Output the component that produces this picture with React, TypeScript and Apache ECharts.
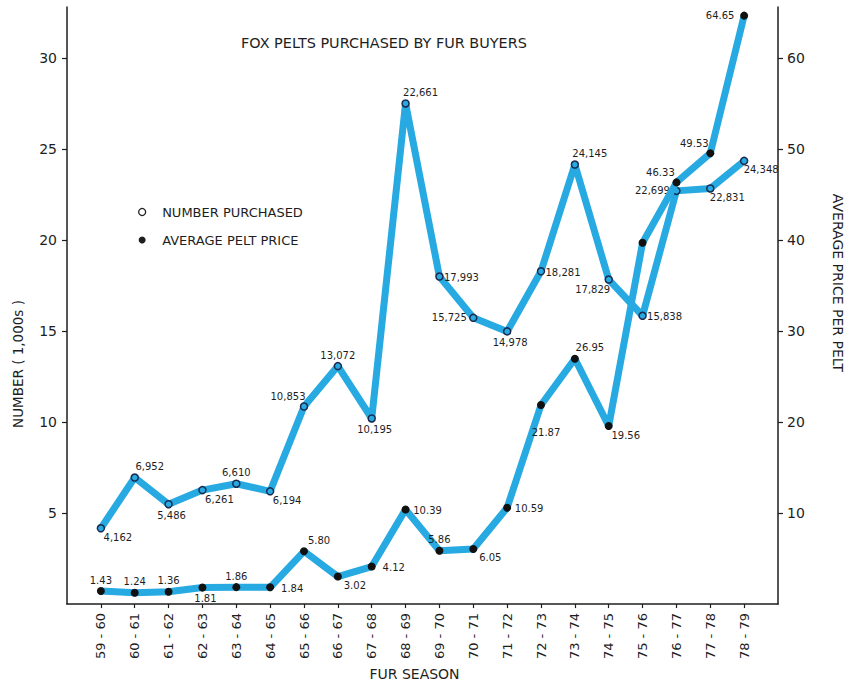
import React, { useEffect, useRef } from "react";
import * as echarts from "echarts";

const seasons = [
  "59 - 60", "60 - 61", "61 - 62", "62 - 63", "63 - 64", "64 - 65", "65 - 66",
  "66 - 67", "67 - 68", "68 - 69", "69 - 70", "70 - 71", "71 - 72", "72 - 73",
  "73 - 74", "74 - 75", "75 - 76", "76 - 77", "77 - 78", "78 - 79",
];

// Number purchased, thousands (as plotted)
const numberPurchased = [
  4.162, 6.952, 5.486, 6.261, 6.61, 6.194, 10.853, 13.072, 10.195, 27.5,
  17.993, 15.725, 14.978, 18.281, 24.145, 17.829, 15.838, 22.699, 22.831, 24.348,
];
const numberLabels = [
  "4,162", "6,952", "5,486", "6,261", "6,610", "6,194", "10,853", "13,072", "10,195", "22,661",
  "17,993", "15,725", "14,978", "18,281", "24,145", "17,829", "15,838", "22,699", "22,831", "24,348",
];

// Average pelt price, dollars
const avgPrice = [
  1.43, 1.24, 1.36, 1.81, 1.86, 1.84, 5.8, 3.02, 4.12, 10.39,
  5.86, 6.05, 10.59, 21.87, 26.95, 19.56, 39.7, 46.33, 49.53, 64.65,
];
const priceLabels = [
  "1.43", "1.24", "1.36", "1.81", "1.86", "1.84", "5.80", "3.02", "4.12", "10.39",
  "5.86", "6.05", "10.59", "21.87", "26.95", "19.56", "", "46.33", "49.53", "64.65",
];

const leftTicks = [5, 10, 15, 20, 25, 30];
const rightTicks = [10, 20, 30, 40, 50, 60];

// label placement (compass direction from the point)
const numberPlace = ["SE", "NE", "S", "SE", "N", "SE", "NW", "N", "S", "NE", "E", "W", "S", "E", "NE", "SW", "E", "W", "SE", "SE"];
const pricePlace = ["N", "N", "N", "S", "N", "E", "NE", "SE", "E", "E", "N", "SE", "E", "S2", "NE", "SE", "N", "NW", "NW", "W"];

const placeOffset: Record<string, number[]> = {
  N: [0, -11],
  S: [3, 11],
  E: [22, 1],
  W: [-24, 0],
  NE: [15, -11],
  NW: [-16, -10],
  SE: [17, 9],
  SW: [-16, 10],
  S2: [5, 27],
};

const FONT = "DejaVu Sans";
const INK = "#1e1e1e";
const BLUE = "#27a9e1";

export default function App() {
  const ref = useRef<HTMLDivElement>(null);

  useEffect(() => {
    document.body.style.margin = "0";
    const chart = echarts.init(ref.current!, null, { renderer: "svg" });
    const cats = ["", ...seasons, ""];

    const mkData = (vals: number[], places: string[]) =>
      vals.map((v, i) => ({
        value: [i + 1, v],
        label: { offset: placeOffset[places[i]] },
      }));

    const labelBase = {
      show: true,
      position: "inside",
      align: "center",
      verticalAlign: "middle",
      fontSize: 10,
      fontFamily: FONT,
      color: INK,
    };

    chart.setOption({
      animation: false,
      backgroundColor: "#ffffff",
      textStyle: { fontFamily: FONT },
      title: {
        text: "FOX PELTS PURCHASED BY FUR BUYERS",
        left: 241,
        top: 36,
        padding: 0,
        textStyle: { fontSize: 14.4, fontWeight: "normal", color: INK, fontFamily: FONT },
      },
      legend: {
        orient: "vertical",
        left: 138,
        top: 204,
        padding: 0,
        itemWidth: 30,
        itemHeight: 7,
        itemGap: 12,
        textStyle: { fontSize: 13, color: INK, fontFamily: FONT, lineHeight: 16 },
        data: [
          {
            name: "NUMBER PURCHASED",
            icon: "circle",
            itemStyle: { color: "#ffffff", borderColor: INK, borderWidth: 1.3 },
          },
          {
            name: "AVERAGE PELT PRICE",
            icon: "circle",
            itemStyle: { color: INK, borderWidth: 0 },
          },
        ],
      },
      grid: { left: 67, right: 69, top: 7, bottom: 78, containLabel: false },
      xAxis: {
        type: "category",
        data: cats,
        boundaryGap: false,
        name: "FUR SEASON",
        nameLocation: "middle",
        nameGap: 60,
        nameTextStyle: { fontSize: 14, color: INK, fontFamily: FONT, padding: [0, 16, 0, 0] },
        axisLine: { lineStyle: { color: INK, width: 1.5 } },
        axisTick: {
          show: true,
          length: 4,
          lineStyle: { color: INK, width: 1.2 },
          interval: (index: number) => index > 0 && index < cats.length - 1,
        },
        axisLabel: {
          rotate: 90,
          margin: 9,
          fontSize: 13,
          color: INK,
          fontFamily: FONT,
          interval: 0,
        },
        splitLine: { show: false },
      },
      yAxis: [
        {
          type: "value",
          position: "left",
          min: 0,
          max: 32.8,
          axisLine: { show: true, lineStyle: { color: INK, width: 1.5 } },
          axisTick: { show: true, length: 5, lineStyle: { color: INK, width: 1.2 }, customValues: leftTicks },
          axisLabel: { margin: 10, fontSize: 14, color: INK, fontFamily: FONT, customValues: leftTicks },
          splitLine: { show: false },
        },
        {
          type: "value",
          position: "right",
          min: 0,
          max: 65.6,
          axisLine: { show: true, lineStyle: { color: INK, width: 1.5 } },
          axisTick: { show: true, length: 5, lineStyle: { color: INK, width: 1.2 }, customValues: rightTicks },
          axisLabel: { margin: 9, fontSize: 14, color: INK, fontFamily: FONT, customValues: rightTicks },
          splitLine: { show: false },
        },
      ],
      graphic: [
        {
          type: "text",
          x: 18,
          y: 364,
          rotation: Math.PI / 2,
          style: {
            text: "NUMBER ( 1,000s )",
            fontSize: 13.5,
            fontFamily: FONT,
            fill: INK,
            align: "center",
            verticalAlign: "middle",
            textAlign: "center",
            textVerticalAlign: "middle",
          },
        },
        {
          type: "text",
          x: 838,
          y: 283,
          rotation: -Math.PI / 2,
          style: {
            text: "AVERAGE PRICE PER PELT",
            fontSize: 14,
            fontFamily: FONT,
            fill: INK,
            align: "center",
            verticalAlign: "middle",
            textAlign: "center",
            textVerticalAlign: "middle",
          },
        },
      ],
      series: [
        {
          name: "NUMBER PURCHASED",
          type: "line",
          yAxisIndex: 0,
          data: mkData(numberPurchased, numberPlace),
          showSymbol: true,
          showAllSymbol: true,
          symbol: "circle",
          symbolSize: 7,
          lineStyle: { color: BLUE, width: 7 },
          itemStyle: { color: BLUE, borderColor: "#1b2a4e", borderWidth: 1.5 },
          label: { ...labelBase, formatter: (p: any) => numberLabels[p.dataIndex] },
          emphasis: { disabled: true },
          z: 2,
        },
        {
          name: "AVERAGE PELT PRICE",
          type: "line",
          yAxisIndex: 1,
          data: mkData(avgPrice, pricePlace),
          showSymbol: true,
          showAllSymbol: true,
          symbol: "circle",
          symbolSize: 8,
          lineStyle: { color: BLUE, width: 7 },
          itemStyle: { color: "#111111", borderWidth: 0 },
          label: { ...labelBase, formatter: (p: any) => priceLabels[p.dataIndex] },
          emphasis: { disabled: true },
          z: 3,
        },
      ],
    });

    return () => chart.dispose();
  }, []);

  return <div ref={ref} style={{ width: 847, height: 686, background: "#fff" }} />;
}
